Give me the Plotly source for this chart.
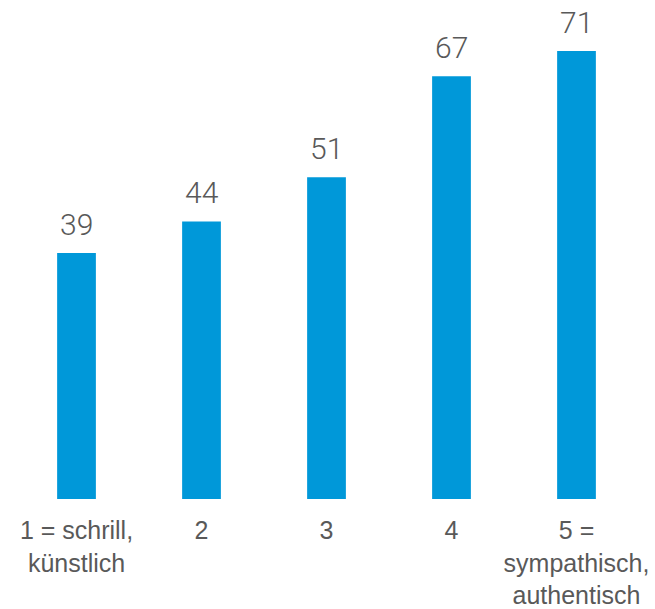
import plotly.graph_objects as go

categories = ["1 = schrill,<br>künstlich", "2", "3", "4", "5 =<br>sympathisch,<br>authentisch"]
values = [39, 44, 51, 67, 71]

bar_color = "#0098d9"
text_color = "#595959"

fig = go.Figure()
fig.add_trace(go.Bar(
    x=categories, y=values,
    marker=dict(color=bar_color, line=dict(width=0)),
    hoverinfo="skip",
))

for i, v in enumerate(values):
    fig.add_annotation(
        x=i, y=v, text=str(v), showarrow=False,
        xref="x", yref="y",
        yanchor="bottom", yshift=9,
        font=dict(family="Roboto", size=30, color=text_color, weight=300),
    )

fig.update_layout(
    width=655, height=609,
    margin=dict(l=14, r=16, t=0, b=110),
    paper_bgcolor="white", plot_bgcolor="white",
    bargap=0.69,
    showlegend=False,
    xaxis=dict(
        showgrid=False, zeroline=False, showline=False, ticks="",
        tickfont=dict(family="Liberation Sans, Arial", size=25, color=text_color),
        ticklabelstandoff=14,
    ),
    yaxis=dict(
        range=[0, 79.1], visible=False, showgrid=False, zeroline=False,
    ),
)

fig.write_html("out.html")
